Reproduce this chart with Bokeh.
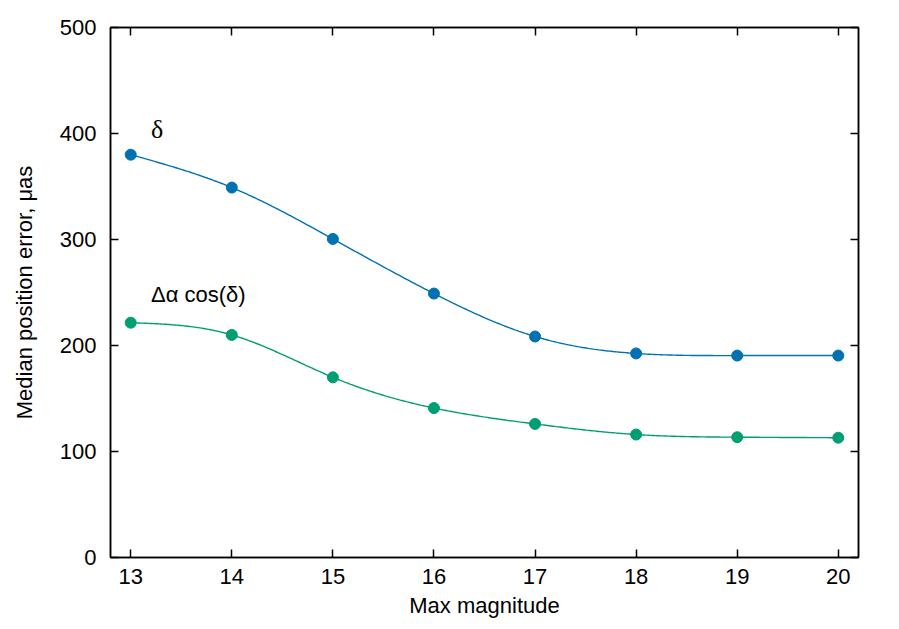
import numpy as np
from bokeh.plotting import figure
from bokeh.models import LinearAxis, FixedTicker, Range1d, CustomJSTickFormatter
from bokeh.core.properties import value
from bokeh.embed import file_html
from bokeh.resources import INLINE

# data
mag = [13, 14, 15, 16, 17, 18, 19, 20]
err_dec = [380, 349, 300.5, 249, 208.5, 192.5, 190.5, 190.5]
err_ra = [221.5, 210, 170, 141, 126, 116, 113.5, 113]
x_ticks = [13, 14, 15, 16, 17, 18, 19, 20]
y_ticks = [0, 100, 200, 300, 400, 500]
label_dec = "δ"
label_ra = "Δα cos(δ)"
label_dec_pos = (13.2, 404)
label_ra_pos = (13.2, 248)

BLUE = "#0072b2"
GREEN = "#009e73"
FONT = "Liberation Sans"


def natural_spline(x, y, n=400):
    x = np.asarray(x, float)
    y = np.asarray(y, float)
    k = len(x)
    h = np.diff(x)
    A = np.zeros((k, k))
    b = np.zeros(k)
    A[0, 0] = 1
    A[-1, -1] = 1
    for i in range(1, k - 1):
        A[i, i - 1] = h[i - 1]
        A[i, i] = 2 * (h[i - 1] + h[i])
        A[i, i + 1] = h[i]
        b[i] = 6 * ((y[i + 1] - y[i]) / h[i] - (y[i] - y[i - 1]) / h[i - 1])
    M = np.linalg.solve(A, b)
    xs = np.linspace(x[0], x[-1], n)
    idx = np.clip(np.searchsorted(x, xs) - 1, 0, k - 2)
    x0, x1 = x[idx], x[idx + 1]
    hh = x1 - x0
    t0 = x1 - xs
    t1 = xs - x0
    ys = (M[idx] * t0 ** 3 / (6 * hh) + M[idx + 1] * t1 ** 3 / (6 * hh)
          + (y[idx] / hh - M[idx] * hh / 6) * t0
          + (y[idx + 1] / hh - M[idx + 1] * hh / 6) * t1)
    return xs, ys


p = figure(width=891, height=621, output_backend="svg", toolbar_location=None,
           x_range=Range1d(12.8, 20.2), y_range=Range1d(0, 500),
           min_border_left=110, min_border_right=33, min_border_top=27,
           min_border_bottom=64, frame_width=748, frame_height=530)
p.grid.visible = False
p.background_fill_color = "white"
p.border_fill_color = "white"
p.outline_line_color = "black"
p.outline_line_width = 1.5

for ax in p.xaxis + p.yaxis:
    ax.major_tick_in = 8
    ax.major_tick_out = 0
    ax.minor_tick_line_color = None
    ax.axis_line_width = 1.5
    ax.major_tick_line_width = 1.5
    ax.major_label_text_font = FONT
    ax.major_label_text_font_size = "22px"
    ax.major_label_text_color = "black"
    ax.axis_label_text_font = FONT
    ax.axis_label_text_font_size = "22px"
    ax.axis_label_text_font_style = "normal"
    ax.axis_label_text_color = "black"

p.xaxis.ticker = FixedTicker(ticks=x_ticks)
p.yaxis.ticker = FixedTicker(ticks=y_ticks)
p.xaxis.axis_label = "Max magnitude"
p.yaxis.axis_label = "Median position error, μas"
p.xaxis.major_label_standoff = 11
p.yaxis.major_label_standoff = 14
p.xaxis.axis_label_standoff = 6
p.yaxis.axis_label_standoff = 20

blank = CustomJSTickFormatter(code="return ''")
top = LinearAxis(ticker=FixedTicker(ticks=x_ticks), formatter=blank,
                 major_tick_in=8, major_tick_out=0, minor_tick_line_color=None,
                 axis_line_width=1.5, major_tick_line_width=1.5,
                 major_label_text_font_size="1px", major_label_standoff=0)
right = LinearAxis(ticker=FixedTicker(ticks=y_ticks), formatter=blank,
                   major_tick_in=8, major_tick_out=0, minor_tick_line_color=None,
                   axis_line_width=1.5, major_tick_line_width=1.5,
                   major_label_text_font_size="1px", major_label_standoff=0)
p.add_layout(top, "above")
p.add_layout(right, "right")

for ys, col in ((err_dec, BLUE), (err_ra, GREEN)):
    sx, sy = natural_spline(mag, ys)
    p.line(sx, sy, line_color=col, line_width=1.4)
    p.scatter(mag, ys, size=11, fill_color=col, line_color=col)

p.text(x=[label_dec_pos[0]], y=[label_dec_pos[1]], text=[label_dec],
       text_font=value("Liberation Serif"), text_font_size="26px",
       text_baseline="middle", text_align="left", text_color="black")
p.text(x=[label_ra_pos[0]], y=[label_ra_pos[1]], text=[label_ra],
       text_font=value(FONT), text_font_size="22px",
       text_baseline="middle", text_align="left", text_color="black")

open("out.html", "w").write(file_html(p, INLINE))
